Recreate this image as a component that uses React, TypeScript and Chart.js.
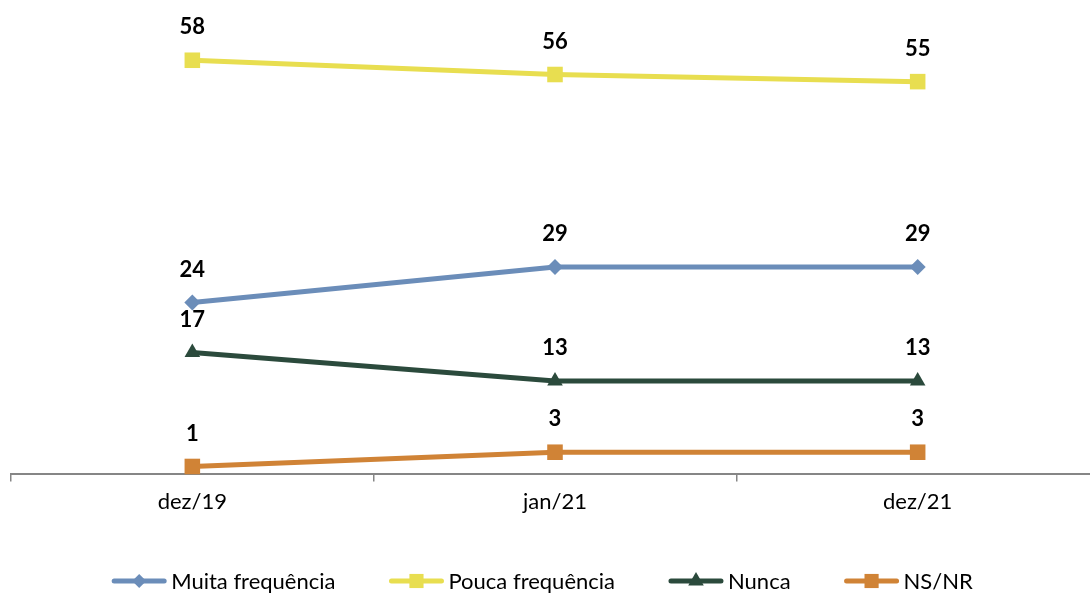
import React, { useEffect, useRef } from "react";
import { Chart, registerables } from "chart.js";

Chart.register(...registerables);

const categories = ["dez/19", "jan/21", "dez/21"];
const muitaFrequencia = [24, 29, 29];
const poucaFrequencia = [58, 56, 55];
const nunca = [17, 13, 13];
const nsNr = [1, 3, 3];
const seriesNames = ["Muita frequência", "Pouca frequência", "Nunca", "NS/NR"];
const seriesColors = ["#6B8DB9", "#E8DE50", "#2B4A3C", "#D08336"];
const seriesStyles = ["rectRot", "rect", "triangle", "rect"];
const seriesRadius = [8, 11, 9, 11];

const FONT = "Lato, 'Open Sans', sans-serif";

function drawMarker(ctx: CanvasRenderingContext2D, style: string, x: number, y: number, r: number, color: string) {
  ctx.save();
  ctx.fillStyle = color;
  ctx.beginPath();
  if (style === "rectRot") {
    ctx.moveTo(x, y - r);
    ctx.lineTo(x + r, y);
    ctx.lineTo(x, y + r);
    ctx.lineTo(x - r, y);
    ctx.closePath();
  } else if (style === "triangle") {
    const w = r * Math.sqrt(3) / 2;
    ctx.moveTo(x, y - r);
    ctx.lineTo(x + w, y + r * 0.5);
    ctx.lineTo(x - w, y + r * 0.5);
    ctx.closePath();
  } else {
    const s = Math.SQRT1_2 * r;
    ctx.rect(x - s, y - s, 2 * s, 2 * s);
  }
  ctx.fill();
  ctx.restore();
}

const labelPlugin = {
  id: "valueLabels",
  afterDatasetsDraw(chart: any) {
    const ctx = chart.ctx as CanvasRenderingContext2D;
    ctx.save();
    ctx.font = `bold 22px ${FONT}`;
    ctx.fillStyle = "#000";
    ctx.textAlign = "center";
    ctx.textBaseline = "middle";
    chart.data.datasets.forEach((ds: any, i: number) => {
      const meta = chart.getDatasetMeta(i);
      meta.data.forEach((pt: any, j: number) => {
        ctx.fillText(String(ds.data[j]), pt.x, pt.y - 33);
      });
    });
    ctx.restore();
  },
};

const legendPlugin = {
  id: "customLegend",
  afterDraw(chart: any) {
    const ctx = chart.ctx as CanvasRenderingContext2D;
    ctx.save();
    ctx.font = `22px ${FONT}`;
    ctx.textBaseline = "middle";
    ctx.textAlign = "left";
    const lineLen = 56;
    const gapText = 4;
    const gapItem = 53;
    const widths = seriesNames.map((n) => lineLen + gapText + ctx.measureText(n).width);
    const total = widths.reduce((a, b) => a + b, 0) + gapItem * (seriesNames.length - 1);
    let x = 542 - total / 2;
    const y = 581;
    seriesNames.forEach((name, i) => {
      ctx.strokeStyle = seriesColors[i];
      ctx.lineWidth = 5;
      ctx.lineCap = "round";
      ctx.beginPath();
      ctx.moveTo(x + 3, y);
      ctx.lineTo(x + lineLen - 3, y);
      ctx.stroke();
      const r = seriesStyles[i] === "rectRot" ? 7 : seriesStyles[i] === "triangle" ? 9 : 10;
      drawMarker(ctx, seriesStyles[i], x + lineLen / 2, y, r, seriesColors[i]);
      ctx.fillStyle = "#000";
      ctx.fillText(name, x + lineLen + gapText, y + 1);
      x += widths[i] + gapItem;
    });
    ctx.restore();
  },
};

export default function App() {
  const canvasRef = useRef<HTMLCanvasElement | null>(null);

  useEffect(() => {
    const canvas = canvasRef.current;
    if (!canvas) return;
    const seriesData = [muitaFrequencia, poucaFrequencia, nunca, nsNr];
    const chart = new Chart(canvas, {
      type: "line",
      data: {
        labels: categories,
        datasets: seriesData.map((d, i) => ({
          label: seriesNames[i],
          data: d,
          borderColor: seriesColors[i],
          backgroundColor: seriesColors[i],
          borderWidth: 5,
          pointStyle: seriesStyles[i] as any,
          pointRadius: seriesRadius[i],
          pointBorderWidth: 0,
          pointHoverRadius: seriesRadius[i],
          tension: 0,
          clip: false as any,
        })),
      },
      options: {
        responsive: false,
        animation: false,
        devicePixelRatio: 1,
        layout: { padding: { left: 6.5, right: 4, top: 46, bottom: 71 } },
        plugins: {
          legend: { display: false },
          tooltip: { enabled: false },
        },
        scales: {
          x: {
            type: "category",
            offset: true,
            grid: {
              offset: true,
              drawOnChartArea: false,
              drawTicks: true,
              tickLength: 8,
              color: "#868686",
              lineWidth: 1.5,
            },
            border: { display: true, color: "#868686", width: 2 },
            ticks: {
              color: "#000",
              font: { family: FONT, size: 22 },
              padding: 7,
            },
          },
          y: {
            display: false,
            min: 0,
            max: 60,
          },
        },
      },
      plugins: [labelPlugin, legendPlugin],
    });
    return () => chart.destroy();
  }, []);

  return (
    <div style={{ position: "fixed", left: 0, top: 0, width: 1090, height: 593, overflow: "hidden", background: "#fff" }}>
      <canvas ref={canvasRef} width={1110} height={593} style={{ width: 1110, height: 593, display: "block" }} />
    </div>
  );
}
